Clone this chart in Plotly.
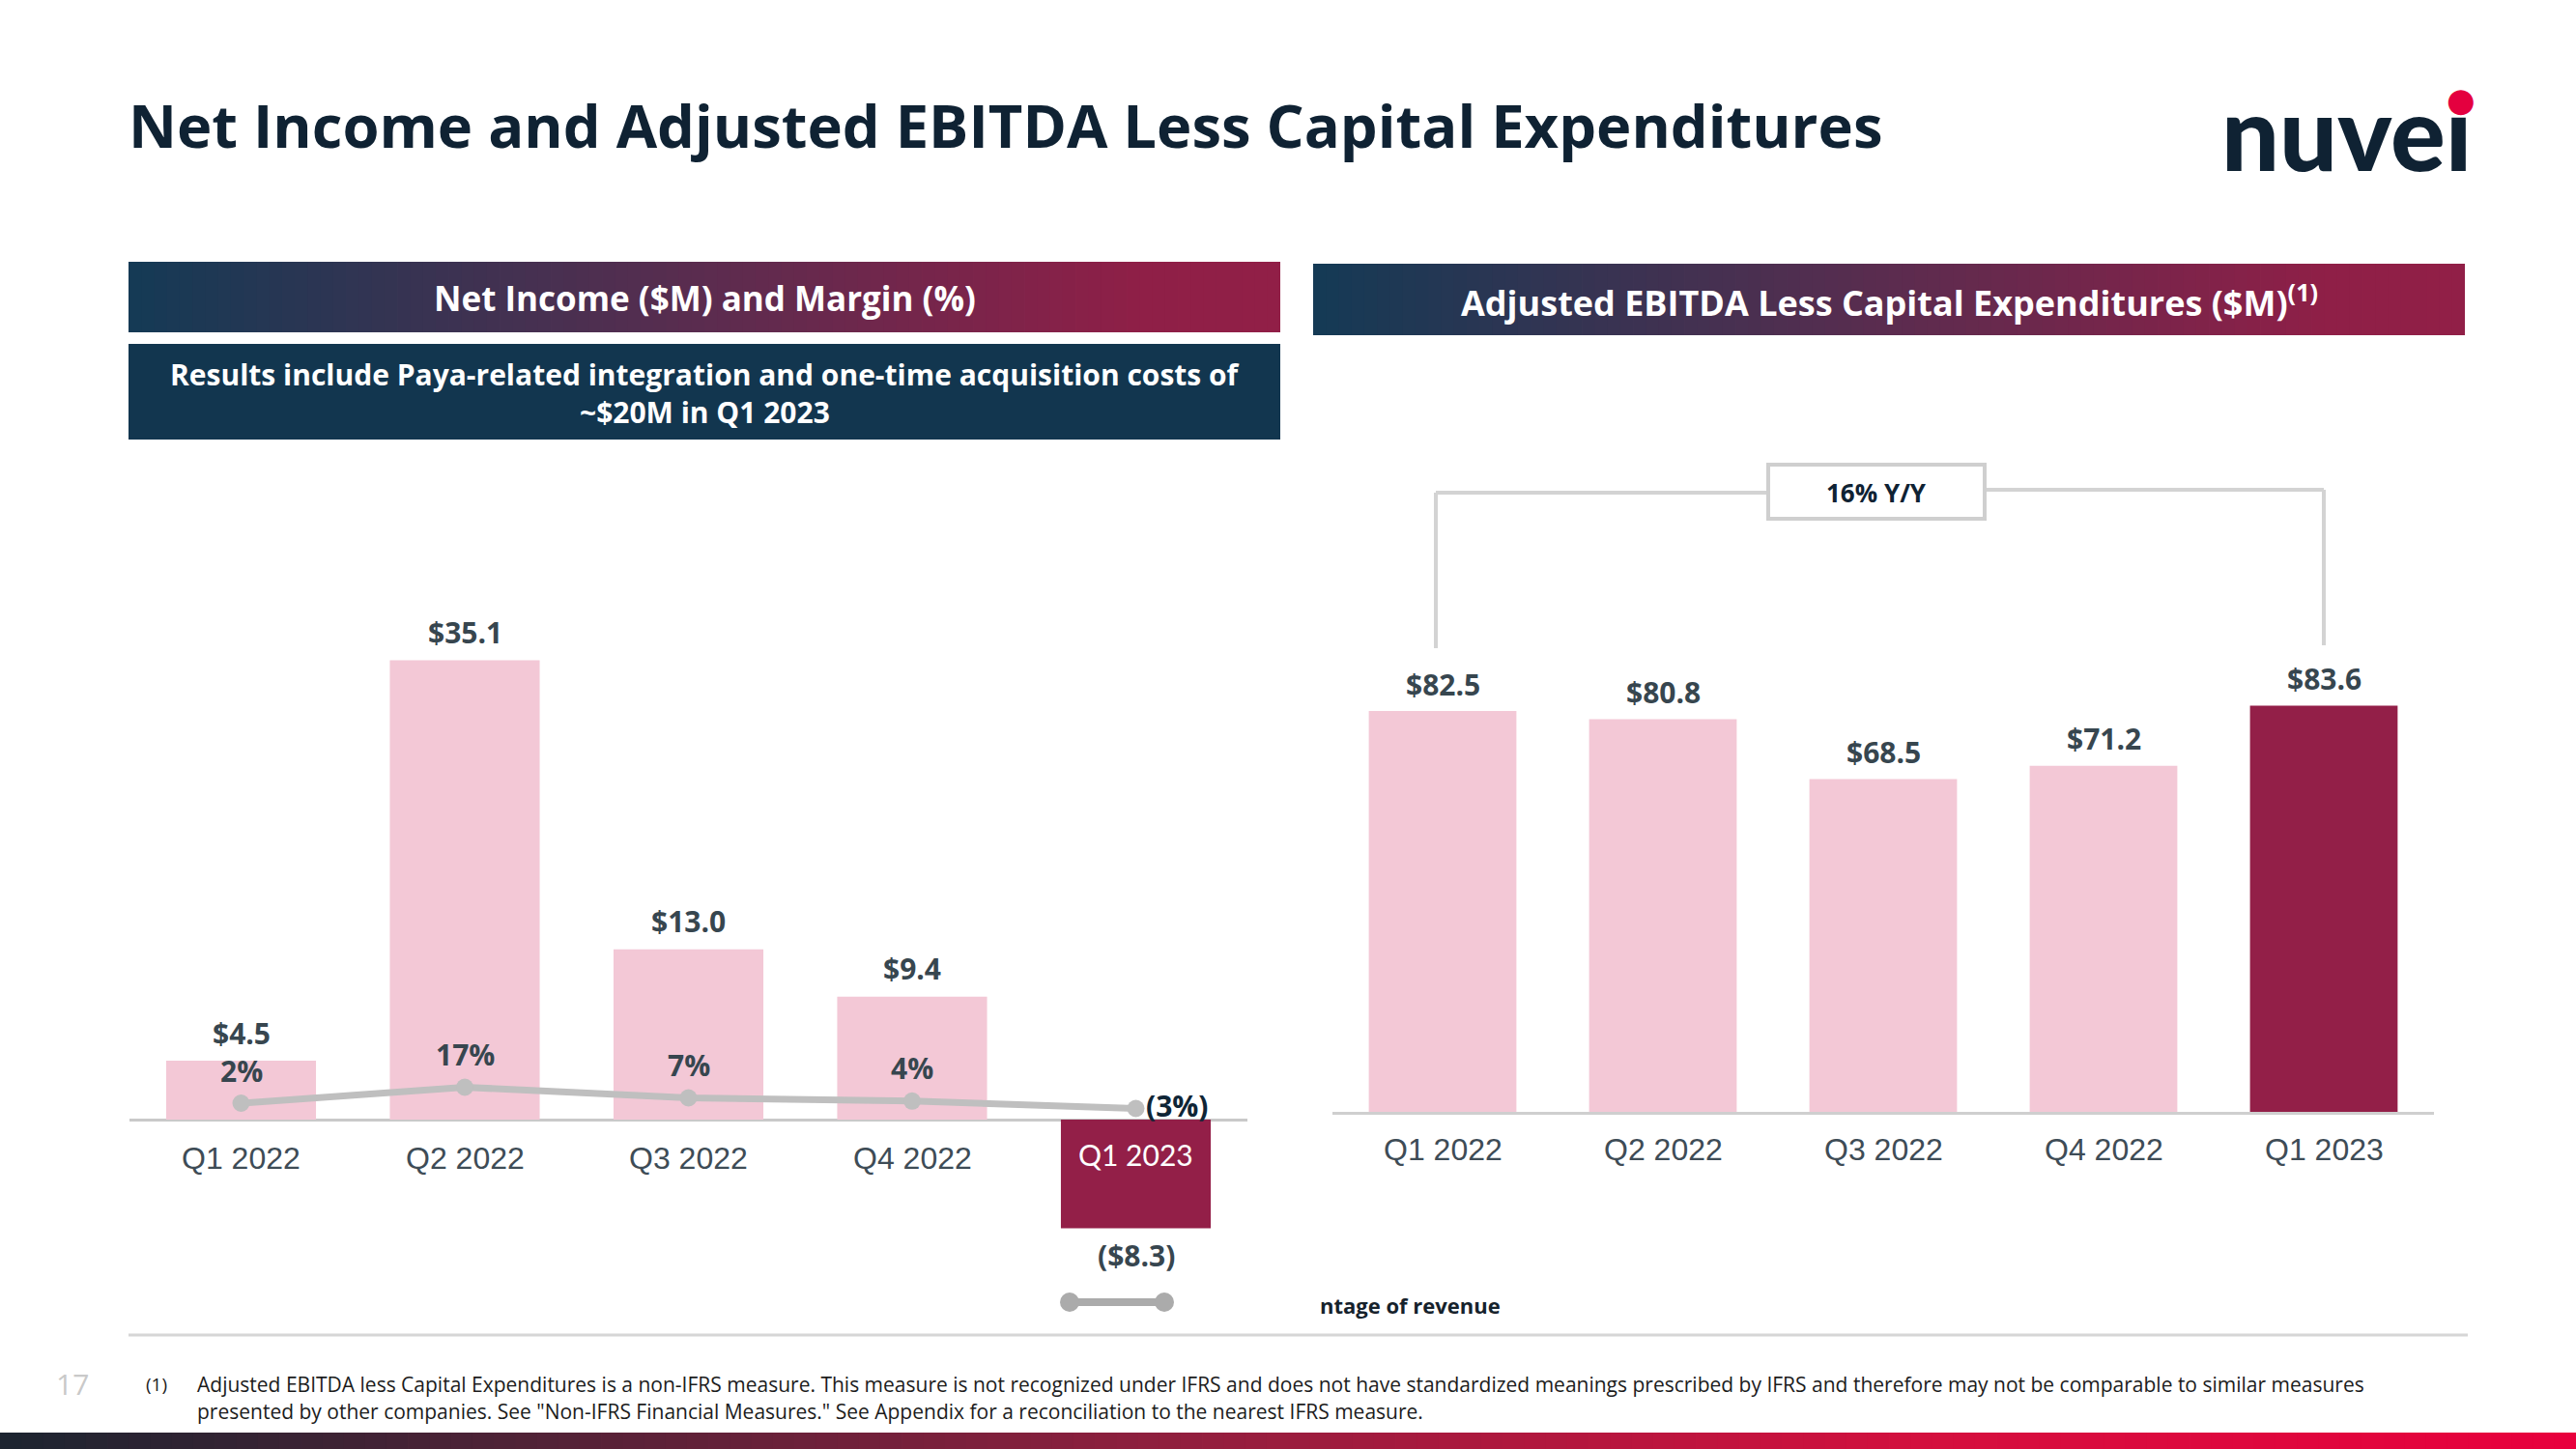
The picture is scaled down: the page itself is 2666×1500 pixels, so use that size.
import plotly.graph_objects as go

W, H = 2666, 1500

# ---------------- data ----------------
quarters = ["Q1 2022", "Q2 2022", "Q3 2022", "Q4 2022", "Q1 2023"]
net_income = [4.5, 35.1, 13.0, 9.4, -8.3]
net_income_labels = ["$4.5", "$35.1", "$13.0", "$9.4", "($8.3)"]
net_margin = [2, 17, 7, 4, -3]
net_margin_labels = ["2%", "17%", "7%", "4%", "(3%)"]
ebitda_capex = [82.5, 80.8, 68.5, 71.2, 83.6]
ebitda_labels = ["$82.5", "$80.8", "$68.5", "$71.2", "$83.6"]
yoy_label = "16% Y/Y"

PINK = "#F3C8D6"
CRIMSON = "#931F48"
NAVY = "#0F2233"
SLATE = "#37464F"
TICK = "#3E4C56"
FONT = "Open Sans"
bar_colors = [PINK] * 4 + [CRIMSON]


def X(p):
    return p / W


def Y(p):
    return 1 - p / H


# ---------------- axes geometry (pixels) ----------------
L_X0, L_X1 = 133.75, 1291.25
L_TOP, L_BOT, L_ZERO, L_SCALE = 600, 1300, 1159, 13.55
M_ZERO, M_SCALE = 1144.2, 1.1
R_X0, R_X1 = 1379, 2519
R_TOP, R_ZERO, R_SCALE = 560, 1151, 5.03

fig = go.Figure()
fig.add_trace(go.Bar(x=quarters, y=net_income, marker=dict(color=bar_colors, line=dict(width=0)),
                     xaxis="x", yaxis="y", hoverinfo="skip"))
fig.add_trace(go.Scatter(x=quarters, y=net_margin, xaxis="x", yaxis="y3", mode="lines+markers",
                         line=dict(color="#BFBFBF", width=7), marker=dict(size=18, color="#BFBFBF"),
                         cliponaxis=False, hoverinfo="skip"))
fig.add_trace(go.Bar(x=quarters, y=ebitda_capex, marker=dict(color=bar_colors, line=dict(width=0)),
                     xaxis="x2", yaxis="y2", hoverinfo="skip"))

shapes = []
annotations = []


def hex2rgb(h):
    h = h.lstrip("#")
    return tuple(int(h[i:i + 2], 16) for i in (0, 2, 4))


def color_at(stops, t):
    for (t0, c0), (t1, c1) in zip(stops[:-1], stops[1:]):
        if t0 <= t <= t1:
            f = (t - t0) / (t1 - t0) if t1 > t0 else 0
            a, b = hex2rgb(c0), hex2rgb(c1)
            return "rgb(%d,%d,%d)" % tuple(round(a[k] + (b[k] - a[k]) * f) for k in range(3))
    return stops[-1][1]


def gradient_rect(x0, x1, y0, y1, stops, n=90):
    w = (x1 - x0) / n
    for i in range(n):
        c = color_at(stops, (i + 0.5) / n)
        shapes.append(dict(type="rect", xref="paper", yref="paper",
                           x0=X(x0 + i * w), x1=X(min(x1, x0 + (i + 1) * w + 0.8)),
                           y0=Y(y1), y1=Y(y0), fillcolor=c, line=dict(width=0), layer="below"))


head_stops = [(0, "#143A55"), (0.5, "#5B2C4F"), (0.88, "#8F1F47"), (1, "#911F47")]
gradient_rect(133, 1325, 271, 344, head_stops)
gradient_rect(1359, 2551, 273, 347, head_stops)
shapes.append(dict(type="rect", xref="paper", yref="paper", x0=X(133), x1=X(1325), y0=Y(455), y1=Y(356),
                   fillcolor="#12364F", line=dict(width=0), layer="below"))
gradient_rect(0, 2666, 1483, 1500, [(0, "#1C2430"), (0.45, "#8F1F3E"), (0.75, "#D40F3E"), (1, "#E8003D")], n=120)

# separator
shapes.append(dict(type="line", xref="paper", yref="paper", x0=X(133), x1=X(2554), y0=Y(1382), y1=Y(1382),
                   line=dict(color="#D6D6D6", width=3)))

# legend remnant
shapes.append(dict(type="line", xref="paper", yref="paper", x0=X(1107), x1=X(1205), y0=Y(1348), y1=Y(1348),
                   line=dict(color="#ABABAB", width=8)))
for cx in (1107, 1205):
    shapes.append(dict(type="circle", xref="paper", yref="paper", x0=X(cx - 10), x1=X(cx + 10),
                       y0=Y(1358), y1=Y(1338), fillcolor="#ABABAB", line=dict(width=0)))

# bracket (16% Y/Y) between first and last right bars
slot = (R_X1 - R_X0) / len(quarters)
bx_first = R_X0 + slot * 0.5 - 7
bx_last = R_X0 + slot * (len(quarters) - 0.5)
BR = dict(color="#D3D3D3", width=4)
shapes += [
    dict(type="line", xref="paper", yref="paper", x0=X(bx_first), x1=X(bx_first), y0=Y(671), y1=Y(510), line=BR),
    dict(type="line", xref="paper", yref="paper", x0=X(bx_first), x1=X(1830), y0=Y(510), y1=Y(510), line=BR),
    dict(type="line", xref="paper", yref="paper", x0=X(bx_last), x1=X(bx_last), y0=Y(668), y1=Y(507), line=BR),
    dict(type="line", xref="paper", yref="paper", x0=X(2054), x1=X(bx_last), y0=Y(507), y1=Y(507), line=BR),
    dict(type="rect", xref="paper", yref="paper", x0=X(1830), x1=X(2054), y0=Y(537), y1=Y(481),
         fillcolor="white", line=dict(color="#CFCFCF", width=4)),
]


def ann(text, x, y, size, color, xanchor="center", yanchor="middle", bold=True, family=FONT, **kw):
    f = dict(family=family, size=size, color=color)
    if bold:
        f["weight"] = 700
    d = dict(text=text, x=x, y=y, xanchor=xanchor, yanchor=yanchor, showarrow=False, font=f)
    d.update(kw)
    d.setdefault("xref", "paper")
    d.setdefault("yref", "paper")
    annotations.append(d)


# title and logo
ann("Net Income and Adjusted EBITDA Less Capital Expenditures", X(131), Y(129), 61.5, NAVY, xanchor="left")
annotations.append(dict(text="nuvei", x=X(2560), y=Y(136), xanchor="right", yanchor="middle", showarrow=False,
                        xref="paper", yref="paper",
                        font=dict(family="Lato", size=106, color=NAVY, weight=900)))
annotations.append(dict(text="●", x=X(2547), y=Y(103), xanchor="center", yanchor="middle", showarrow=False,
                        xref="paper", yref="paper", font=dict(family="DejaVu Sans", size=34, color="#E4003F")))

# headers
ann("Net Income ($M) and Margin (%)", X(729), Y(309), 35, "white")
ann("Results include Paya-related integration and one-time acquisition costs of", X(729), Y(388), 30, "white")
ann("~$20M in Q1 2023", X(729), Y(427), 30, "white")
ann("Adjusted EBITDA Less Capital Expenditures ($M)<sup>(1)</sup>", X(1955), Y(311), 36, "white")
ann(yoy_label, X(1942), Y(510), 26, NAVY)

# left chart labels
for q, v, lab in zip(quarters, net_income, net_income_labels):
    ann(lab, q, v, 30, SLATE, xref="x", yref="y", yshift=29 if v >= 0 else -28)
for q, m, lab in zip(quarters, net_margin, net_margin_labels):
    if m >= 0:
        ann(lab, q, m, 30, SLATE, xref="x", yref="y3", yshift=34)
    else:
        ann(lab, q, m, 30, "#0F2536", xref="x", yref="y3", xanchor="left", xshift=8, yshift=3)
for q, v in zip(quarters, net_income):
    if v >= 0:
        ann(q, q, 0, 32, TICK, xref="x", yref="y", yshift=-40, bold=False, family="Liberation Sans")
    else:
        ann(q, q, 0, 30, "white", xref="x", yref="y", yshift=-36, bold=False, family="Lato")

# right chart labels
for q, v, lab in zip(quarters, ebitda_capex, ebitda_labels):
    ann(lab, q, v, 30, SLATE, xref="x2", yref="y2", yshift=28)
    ann(q, q, 0, 32, TICK, xref="x2", yref="y2", yshift=-39, bold=False, family="Liberation Sans")

# legend text remnant and footnote
ann("ntage of revenue", X(1364), Y(1351), 22, "#16222C", xanchor="left")
ann("17", X(75), Y(1432), 30, "#C9C9C9", bold=False)
ann("(1)", X(162), Y(1433), 19, "#1C1C1C", bold=False)
ann("Adjusted EBITDA less Capital Expenditures is a non-IFRS measure. This measure is not recognized under IFRS "
    "and does not have standardized meanings prescribed by IFRS and therefore may not be comparable to similar measures",
    X(202), Y(1433), 21, "#1C1C1C", xanchor="left", bold=False)
ann("presented by other companies. See \"Non-IFRS Financial Measures.\" See Appendix for a reconciliation to the "
    "nearest IFRS measure.", X(202), Y(1461), 21, "#1C1C1C", xanchor="left", bold=False)

fig.update_layout(
    width=W, height=H, margin=dict(l=0, r=0, t=0, b=0),
    paper_bgcolor="white", plot_bgcolor="rgba(0,0,0,0)",
    showlegend=False, bargap=0.33,
    font=dict(family=FONT),
    xaxis=dict(domain=[X(L_X0), X(L_X1)], type="category", range=[-0.5, 4.5], anchor="y",
               showticklabels=False, showgrid=False, zeroline=False, showline=False, fixedrange=True),
    yaxis=dict(domain=[Y(L_BOT), Y(L_TOP)], range=[-(L_BOT - L_ZERO) / L_SCALE, (L_ZERO - L_TOP) / L_SCALE],
               anchor="x", showticklabels=False, showgrid=False, zeroline=True,
               zerolinecolor="#C9C9C9", zerolinewidth=3, showline=False),
    yaxis3=dict(overlaying="y", anchor="x", range=[-(L_BOT - M_ZERO) / M_SCALE, (M_ZERO - L_TOP) / M_SCALE],
                visible=False),
    xaxis2=dict(domain=[X(R_X0), X(R_X1)], type="category", range=[-0.5, 4.5], anchor="y2",
                showticklabels=False, showgrid=False, zeroline=False, showline=True,
                linecolor="#CFCFCF", linewidth=3),
    yaxis2=dict(domain=[Y(R_ZERO), Y(R_TOP)], range=[0, (R_ZERO - R_TOP) / R_SCALE], anchor="x2",
                showticklabels=False, showgrid=False, zeroline=False, showline=False),
    shapes=shapes, annotations=annotations,
)

fig.write_html("out.html", config={"displayModeBar": False},
               post_script="document.body.style.margin='0';document.body.style.overflow='hidden';")
